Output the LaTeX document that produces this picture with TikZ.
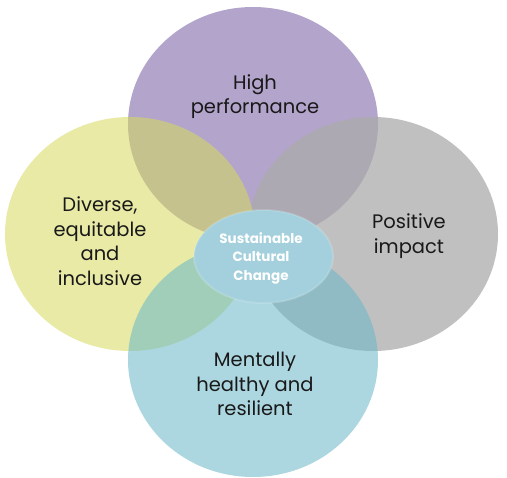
\documentclass[tikz,border=0pt]{standalone}
\usepackage{fontspec}
\setmainfont{Poppins}
\usetikzlibrary{shapes.geometric}
\definecolor{cpurple}{RGB}{179,164,204}
\definecolor{cgray}{RGB}{171,171,171}
\definecolor{cyellow}{RGB}{214,218,95}
\definecolor{cblue}{RGB}{107,184,200}
\definecolor{ccenter}{RGB}{163,208,220}
\tikzset{
  petal/.style={ellipse, minimum width=250pt, minimum height=234pt, inner sep=0pt, draw=none},
  label/.style={align=center, font=\fontsize{19.5}{24.5}\selectfont, text=black!90},
  core/.style={ellipse, minimum width=139pt, minimum height=93pt, inner sep=0pt, fill=ccenter, draw=white, draw opacity=0.15, line width=2pt},
  coretext/.style={align=center, font=\bfseries\fontsize{13.5}{18.5}\selectfont, text=white}
}
\begin{document}
\begin{tikzpicture}[x=1pt,y=-1pt]
\useasboundingbox (0,0) rectangle (507,478);
\node[petal, fill=cpurple] (top) at (253,124) {};
\node[petal, fill=cgray, fill opacity=0.75] (right) at (373,234) {};
\node[petal, fill=cyellow, fill opacity=0.56] (left) at (130,234) {};
\node[petal, fill=cblue, fill opacity=0.56] (bottom) at (253,360) {};
\node[core] (center) at (263.5,256.5) {};
\node[coretext] (ctext) at (261,258) {Sustainable\\Cultural\\Change};
\node[label] (ttop) at (255,96.5) {High\\performance};
\node[label] (tright) at (409,236) {Positive\\impact};
\node[label] (tleft) at (100,241) {Diverse,\\equitable\\and\\inclusive};
\node[label] (tbottom) at (255,384) {Mentally\\healthy and\\resilient};
\end{tikzpicture}
\end{document}
